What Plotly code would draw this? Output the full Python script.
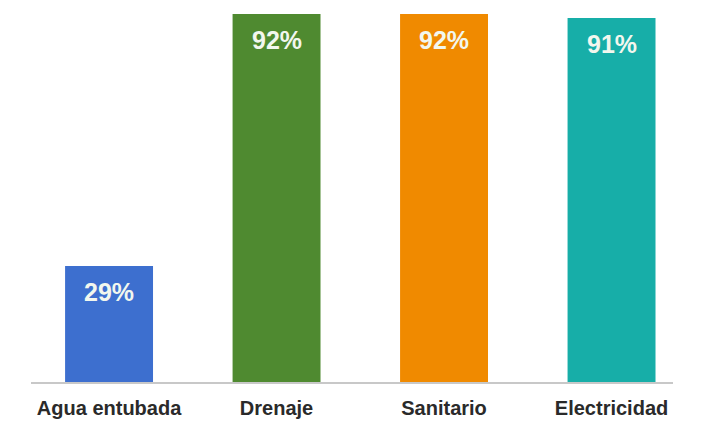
import plotly.graph_objects as go

categories = ["Agua entubada", "Drenaje", "Sanitario", "Electricidad"]
values = [29, 92, 92, 91]
labels = ["29%", "92%", "92%", "91%"]
colors = ["#3D6FCF", "#4F8A30", "#F08A00", "#17AEA8"]

fig = go.Figure()
fig.add_trace(go.Bar(
    x=categories, y=values, marker=dict(color=colors, line=dict(width=0)),
    width=0.525, hoverinfo="skip",
))
for c, v, t in zip(categories, values, labels):
    fig.add_annotation(x=c, y=v, text="<b>" + t + "</b>", showarrow=False,
                       yanchor="middle", yshift=-26,
                       font=dict(family="Liberation Sans, Arial", size=25, color="#F2F7EE"))

fig.update_layout(
    width=702, height=415,
    margin=dict(l=23, r=37, t=0, b=41, pad=0),
    plot_bgcolor="white", paper_bgcolor="white",
    showlegend=False,
    xaxis=dict(range=[-0.466, 3.367], showline=True, linecolor="#C8C8C8", linewidth=1.5,
               ticks="outside", ticklen=7, tickcolor="rgba(0,0,0,0)",
               tickfont=dict(family="Liberation Sans, Arial", size=20, color="#2A2A2A"),
               tickvals=categories, ticktext=["<b>" + c + "</b>" for c in categories]),
    yaxis=dict(range=[0, 93.5], visible=False, showgrid=False, zeroline=False),
)
fig.write_html("out.html")
